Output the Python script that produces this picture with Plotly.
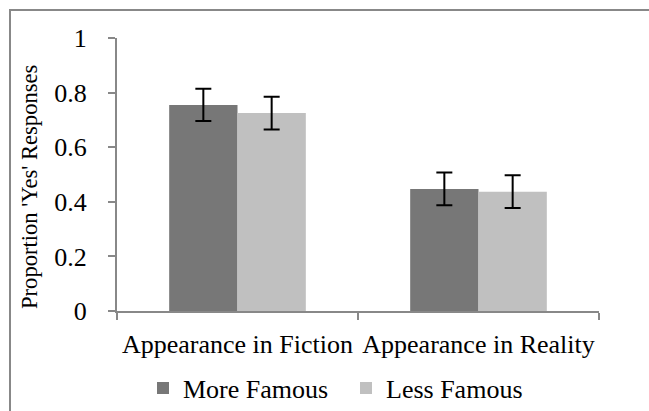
import plotly.graph_objects as go

categories = ["Appearance in Fiction", "Appearance in Reality"]
more_famous = [0.755, 0.447]
more_err = [0.059, 0.060]
less_famous = [0.725, 0.437]
less_err = [0.060, 0.060]
series_names = ["More Famous", "Less Famous"]
y_ticks = [0, 0.2, 0.4, 0.6, 0.8, 1]
y_tick_text = ["0", "0.2", "0.4", "0.6", "0.8", "1"]

FONT = "Liberation Serif"
W, H = 649, 411
ML, MR, MT, MB = 117, 50, 38, 100
pw, ph = W - ML - MR, H - MT - MB

fig = go.Figure()
for name, vals, errs, col in [
    (series_names[0], more_famous, more_err, "#777777"),
    (series_names[1], less_famous, less_err, "#c0c0c0"),
]:
    fig.add_trace(go.Bar(
        x=categories, y=vals, name=name,
        marker=dict(color=col, line=dict(width=0)),
        error_y=dict(type="data", array=errs, visible=True,
                     color="black", thickness=2, width=8),
    ))

def px2x(p):
    return (p - ML) / pw

def px2y(p):
    return (H - MB - p) / ph

fig.add_shape(type="rect", xref="paper", yref="paper",
              x0=px2x(10), x1=px2x(652), y0=px2y(10), y1=px2y(420),
              line=dict(color="#888888", width=2), fillcolor="rgba(0,0,0,0)",
              layer="below")

fig.add_annotation(text="Proportion 'Yes' Responses", xref="paper", yref="paper",
                   x=px2x(29), y=px2y(187), textangle=-90, showarrow=False,
                   font=dict(family=FONT, size=22.6, color="black"),
                   xanchor="center", yanchor="middle")

fig.update_layout(
    width=W, height=H,
    margin=dict(l=ML, r=MR, t=MT, b=MB, autoexpand=False),
    paper_bgcolor="white", plot_bgcolor="white",
    barmode="group", bargap=0.433, bargroupgap=0,
    font=dict(family=FONT, color="black"),
    showlegend=True,
    legend=dict(orientation="h", x=px2x(143), xanchor="left",
                y=px2y(388), yanchor="middle",
                font=dict(family=FONT, size=26, color="black"),
                itemwidth=30, traceorder="normal",
                entrywidth=158, entrywidthmode="pixels"),
)
fig.update_xaxes(
    type="category", tickson="boundaries", ticks="outside", ticklen=7,
    tickcolor="#888888", tickwidth=2, automargin=False, tickangle=0,
    showline=True, linecolor="#888888", linewidth=2,
    showgrid=False, zeroline=False,
    tickfont=dict(family=FONT, size=26, color="black"),
    ticklabelstandoff=9,
)
fig.update_yaxes(
    range=[0, 1], tickvals=y_ticks, ticktext=y_tick_text, automargin=False,
    ticks="outside", ticklen=7, tickcolor="#888888", tickwidth=2,
    showline=True, linecolor="#888888", linewidth=2,
    showgrid=False, zeroline=False,
    tickfont=dict(family=FONT, size=26, color="black"),
    ticklabelstandoff=16,
)

fig.write_html("out.html", config={"displayModeBar": False},
               post_script="document.body.style.margin='0';document.body.style.overflow='hidden';")
